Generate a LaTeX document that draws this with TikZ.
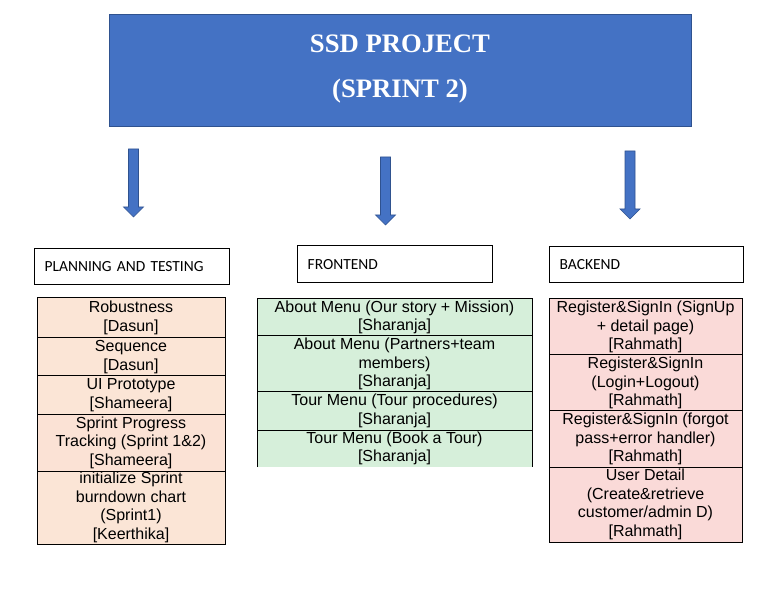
\documentclass[tikz,border=0pt]{standalone}
\usepackage{fontspec}
\setmainfont{Liberation Sans}
\newfontfamily\titlefont{Liberation Serif}
\newfontfamily\hdrfont{Carlito}
\definecolor{titleblue}{HTML}{4472C4}
\definecolor{titleedge}{HTML}{2F528F}
\definecolor{peach}{HTML}{FBE5D6}
\definecolor{peachb}{HTML}{FBE2D5}
\definecolor{mint}{HTML}{D6EFDA}
\definecolor{rose}{HTML}{FADAD8}
\tikzset{
  cell/.style={draw=black, line width=0.75pt, anchor=north west, inner sep=0pt, outer sep=0pt,
    align=center, font=\fontsize{12}{13.9}\selectfont},
  hdr/.style={draw=black, line width=0.75pt, anchor=north west, inner ysep=0pt, outer sep=0pt,
    inner xsep=8pt, align=left, font=\hdrfont\fontsize{11.6}{13}\selectfont},
  blockarrow/.style={fill=titleblue, draw=titleedge, line width=0.5pt}
}
\begin{document}
\begin{tikzpicture}[x=0.75pt,y=-0.75pt]
\useasboundingbox (0,0) rectangle (778,591);
% title
\node[fill=titleblue, draw=titleedge, line width=0.75pt, anchor=north west, outer sep=0pt,
  minimum width={582*0.75pt}, minimum height={112*0.75pt}, inner sep=0pt] (title) at (109,15) {};
\node[text=white, align=center, font=\titlefont\bfseries\fontsize{20}{33.75}\selectfont] (titletxt) at (400,69) {SSD PROJECT\\(SPRINT 2)};
% arrows
\path[blockarrow] (128.5,149) coordinate (a1) -- (138.5,149) -- (138.5,207) -- (143.5,207) -- (133.5,217) -- (123.5,207) -- (128.5,207) -- cycle;
\path[blockarrow] (380.5,157) coordinate (a2) -- (390.5,157) -- (390.5,215) -- (395.5,215) -- (385.5,225) -- (375.5,215) -- (380.5,215) -- cycle;
\path[blockarrow] (625,151) coordinate (a3) -- (635,151) -- (635,209) -- (640,209) -- (630,219) -- (620,209) -- (625,209) -- cycle;
% headers
\node[hdr, text width={(195-21.3)*0.75pt}, minimum height={36*0.75pt}] (hplan) at (34,249) {PLANNING AND TESTING};
\node[hdr, text width={(195-21.3)*0.75pt}, minimum height={37*0.75pt}] (hfront) at (297,246) {FRONTEND};
\node[hdr, text width={(194-21.3)*0.75pt}, minimum height={36*0.75pt}] (hback) at (549,247) {BACKEND};
% planning column
\node[cell, fill=peach, minimum width={188*0.75pt}, minimum height={40*0.75pt}] (p1) at (37,298) {Robustness\\{}[Dasun]};
\node[cell, fill=peach, minimum width={188*0.75pt}, minimum height={38*0.75pt}] (p2) at (37,338) {Sequence\\{}[Dasun]};
\node[cell, fill=peach, minimum width={188*0.75pt}, minimum height={38*0.75pt}] (p3) at (37,376) {UI Prototype\\{}[Shameera]};
\node[cell, fill=peachb, minimum width={188*0.75pt}, minimum height={57*0.75pt}] (p4) at (37,414) {Sprint Progress\\Tracking (Sprint 1\&2)\\{}[Shameera]};
\node[cell, fill=peach, minimum width={188*0.75pt}, minimum height={73*0.75pt}] (p5) at (37,471) {initialize Sprint\\burndown chart\\(Sprint1)\\{}[Keerthika]};
% frontend column
\node[cell, draw=none, fill=mint, minimum width={275*0.75pt}, minimum height={37*0.75pt}] (f4) at (257,430) {Tour Menu (Book a Tour)\\{}[Sharanja]};
\node[cell, fill=mint, minimum width={275*0.75pt}, minimum height={37*0.75pt}] (f1) at (257,299) {About Menu (Our story + Mission)\\{}[Sharanja]};
\node[cell, fill=mint, minimum width={275*0.75pt}, minimum height={56*0.75pt}] (f2) at (257,336) {About Menu (Partners+team\\members)\\{}[Sharanja]};
\node[cell, fill=mint, minimum width={275*0.75pt}, minimum height={38*0.75pt}] (f3) at (257,392) {Tour Menu (Tour procedures)\\{}[Sharanja]};
\draw[line width=0.75pt] (f4.south west) -- (f4.north west) -- (f4.north east) -- (f4.south east);
% backend column
\node[cell, fill=rose, minimum width={193*0.75pt}, minimum height={56*0.75pt}] (b1) at (549,299) {Register\&SignIn (SignUp\\+ detail page)\\{}[Rahmath]};
\node[cell, fill=rose, minimum width={193*0.75pt}, minimum height={56*0.75pt}] (b2) at (549,355) {Register\&SignIn\\(Login+Logout)\\{}[Rahmath]};
\node[cell, fill=rose, minimum width={193*0.75pt}, minimum height={56*0.75pt}] (b3) at (549,411) {Register\&SignIn (forgot\\pass+error handler)\\{}[Rahmath]};
\node[cell, fill=rose, minimum width={193*0.75pt}, minimum height={75*0.75pt}] (b4) at (549,467) {User Detail\\(Create\&retrieve\\customer/admin D)\\{}[Rahmath]};
\end{tikzpicture}
\end{document}
